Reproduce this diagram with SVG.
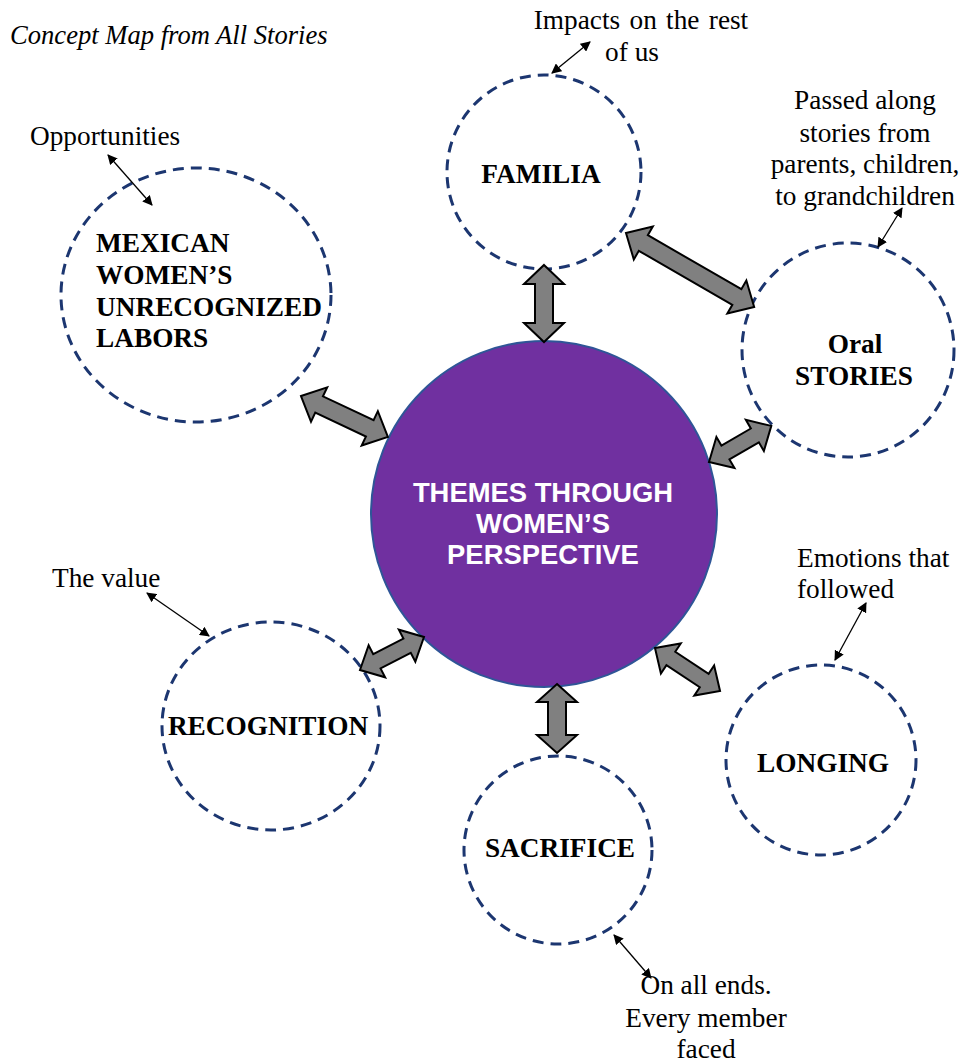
<svg xmlns="http://www.w3.org/2000/svg" width="963" height="1064" viewBox="0 0 963 1064">
<defs>
<marker id="ah" viewBox="0 0 10 10" refX="9" refY="5" markerWidth="10" markerHeight="10" markerUnits="userSpaceOnUse" orient="auto-start-reverse">
<path d="M0,0 L10,5 L0,10 Z" fill="#000"/>
</marker>
<style>
.dash{fill:#fff;stroke:#1c3670;stroke-width:3;stroke-dasharray:11 7}
.lbl{font-family:"Liberation Serif",serif;font-weight:bold;font-size:27.3px;fill:#000}
.ann{font-family:"Liberation Serif",serif;font-size:27.3px;fill:#000}
.thin{stroke:#000;stroke-width:1.3;fill:none;marker-start:url(#ah);marker-end:url(#ah)}
.big{fill:#808080;stroke:#000;stroke-width:2;stroke-linejoin:miter}
</style>
</defs>
<rect width="963" height="1064" fill="#fff"/>
<text x="10" y="44" font-family="Liberation Serif,serif" font-style="italic" font-size="26.6">Concept Map from All Stories</text>

<g id="center">
<circle cx="544" cy="514" r="173" fill="#7030a0" stroke="#2f5597" stroke-width="2"/>
<g font-family="Liberation Sans,Arial,sans-serif" font-weight="bold" font-size="27.4" fill="#fff" text-anchor="middle">
<text x="543" y="502">THEMES THROUGH</text>
<text x="543" y="533">WOMEN’S</text>
<text x="543" y="564">PERSPECTIVE</text>
</g>
</g>

<g id="mexican">
<ellipse class="dash" cx="196" cy="295" rx="135" ry="127"/>
<text class="lbl" x="96" y="252">MEXICAN</text>
<text class="lbl" x="96" y="284">WOMEN’S</text>
<text class="lbl" x="96" y="316">UNRECOGNIZED</text>
<text class="lbl" x="96" y="347">LABORS</text>
</g>

<g id="familia">
<circle class="dash" cx="544" cy="172" r="97"/>
<text class="lbl" x="541" y="183" text-anchor="middle">FAMILIA</text>
</g>

<g id="oral">
<ellipse class="dash" cx="848" cy="350" rx="106" ry="107"/>
<text class="lbl" x="855" y="353" text-anchor="middle">Oral</text>
<text class="lbl" x="854" y="385" text-anchor="middle">STORIES</text>
</g>

<g id="recognition">
<ellipse class="dash" cx="271" cy="726" rx="109" ry="104"/>
<text class="lbl" x="268" y="735" text-anchor="middle">RECOGNITION</text>
</g>

<g id="longing">
<circle class="dash" cx="821" cy="760" r="95"/>
<text class="lbl" x="823" y="772" text-anchor="middle">LONGING</text>
</g>

<g id="sacrifice">
<circle class="dash" cx="558" cy="850" r="94"/>
<text class="lbl" x="560" y="857" text-anchor="middle">SACRIFICE</text>
</g>

<g id="annotations" class="ann">
<text x="641" y="29" text-anchor="middle" word-spacing="2.5">Impacts on the rest</text>
<text x="632" y="61" text-anchor="middle">of us</text>
<text x="30" y="145">Opportunities</text>
<text x="865" y="109" text-anchor="middle">Passed along</text>
<text x="865" y="142" text-anchor="middle">stories from</text>
<text x="865" y="173" text-anchor="middle">parents, children,</text>
<text x="865" y="205" text-anchor="middle">to grandchildren</text>
<text x="52" y="587">The value</text>
<text x="797" y="567">Emotions that</text>
<text x="797" y="598">followed</text>
<text x="706" y="994" text-anchor="middle">On all ends.</text>
<text x="706" y="1027" text-anchor="middle">Every member</text>
<text x="706" y="1058" text-anchor="middle">faced</text>
</g>

<g id="connectors">
<line class="thin" x1="552" y1="73" x2="590" y2="42"/>
<line class="thin" x1="108" y1="155" x2="152" y2="205"/>
<line class="thin" x1="902" y1="208" x2="878" y2="247"/>
<line class="thin" x1="147" y1="593" x2="209" y2="636"/>
<line class="thin" x1="866" y1="603" x2="835" y2="660"/>
<line class="thin" x1="614" y1="935" x2="651" y2="978"/>

<path class="big" transform="translate(544,265) rotate(90)" d="M0,0 L19,-20 L19,-9 L58,-9 L58,-20 L77,0 L58,20 L58,9 L19,9 L19,20 Z"/>
<path class="big" transform="translate(626,233) rotate(30)" d="M0,0 L20,-19 L20,-9 L128,-9 L128,-19 L148,0 L128,19 L128,9 L20,9 L20,19 Z"/>
<path class="big" transform="translate(301,396) rotate(25.2)" d="M0,0 L20,-19 L20,-9 L76,-9 L76,-19 L96,0 L76,19 L76,9 L20,9 L20,19 Z"/>
<path class="big" transform="translate(709,462) rotate(-30.1)" d="M0,0 L19,-18 L19,-8 L53,-8 L53,-18 L72,0 L53,18 L53,8 L19,8 L19,18 Z"/>
<path class="big" transform="translate(655,648) rotate(33.5)" d="M0,0 L19,-18 L19,-8 L59,-8 L59,-18 L78,0 L59,18 L59,8 L19,8 L19,18 Z"/>
<path class="big" transform="translate(557,684) rotate(90)" d="M0,0 L18,-20 L18,-9 L51,-9 L51,-20 L69,0 L51,20 L51,9 L18,9 L18,20 Z"/>
<path class="big" transform="translate(360,670) rotate(-27.3)" d="M0,0 L19,-18 L19,-8 L53,-8 L53,-18 L72,0 L53,18 L53,8 L19,8 L19,18 Z"/>
</g>
</svg>
